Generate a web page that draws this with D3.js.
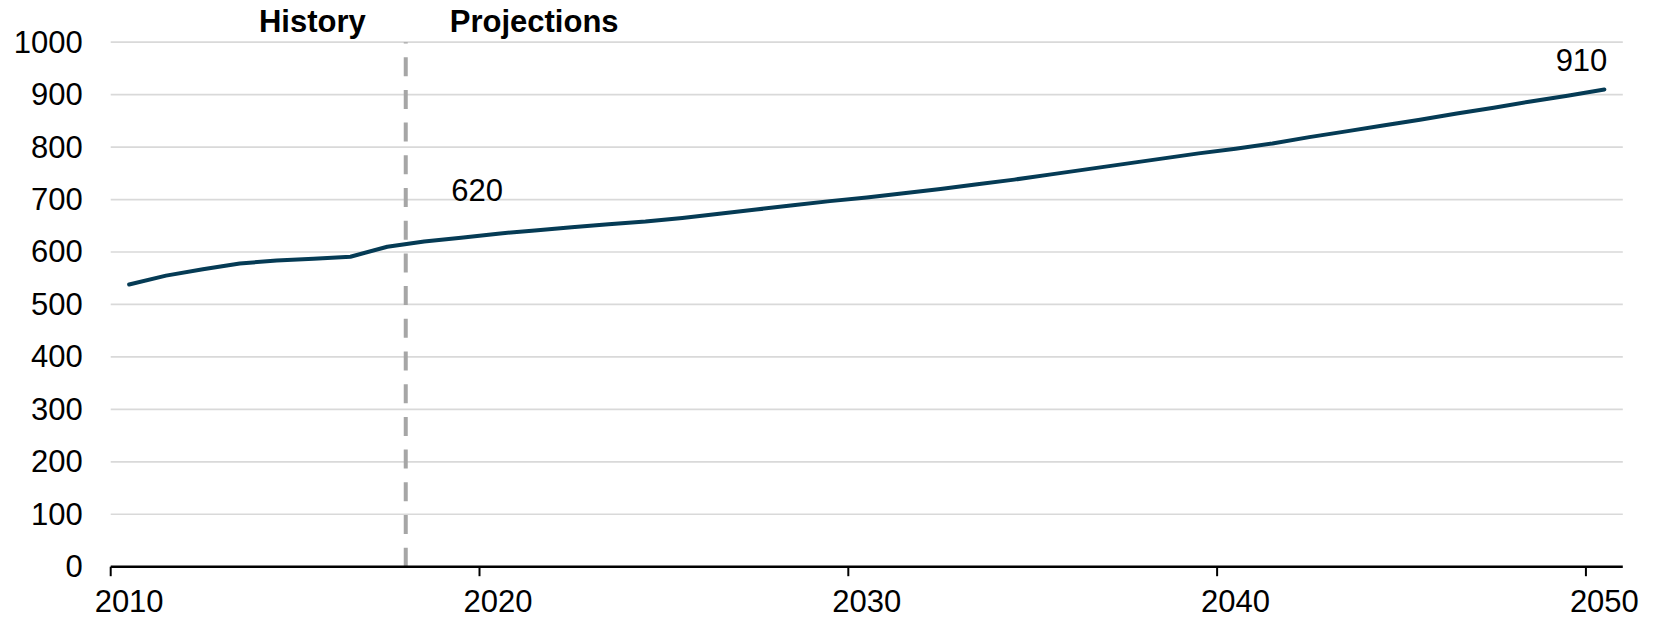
<!DOCTYPE html>
<html>
<head>
<meta charset="utf-8">
<script src="https://cdn.jsdelivr.net/npm/d3@7"></script>
<style>
  html, body { margin: 0; padding: 0; background: #fff; }
  svg { display: block; font-family: Arial, "Liberation Sans", sans-serif; }
</style>
</head>
<body>
<svg id="chart" width="1657" height="619"></svg>
<script>
// Annual values, 2010–2018 history, 2019–2050 projections
const years = d3.range(2010, 2051);
const values = [
  538, 555, 567, 578, 584, 587, 591, 610, 620, 627,
  635, 641, 647, 653, 658, 665, 673, 681, 689, 697,
  704, 712, 720, 729, 738, 748, 758, 768, 778, 788,
  797, 807, 819, 830, 841, 852, 864, 875, 887, 898,
  910
];
const yTicks = [0, 100, 200, 300, 400, 500, 600, 700, 800, 900, 1000];
const xTickYears = [2010, 2020, 2030, 2040, 2050];
const splitYear = 2018;          // boundary between history and projections
const sectionLabels = ["History", "Projections"];
const labelledYears = [2018, 2050];

const W = 1657, H = 619;
const margin = { top: 42.2, right: 34.2, bottom: 52.3, left: 110.7 };
const svg = d3.select("#chart");

// Each year occupies one band; points sit at the band centre
const x = d3.scaleLinear()
  .domain([2010, 2051])
  .range([margin.left, W - margin.right]);
const y = d3.scaleLinear()
  .domain([0, 1000])
  .range([H - margin.bottom, margin.top]);

const data = years.map((yr, i) => ({ year: yr, value: values[i] }));

// Horizontal gridlines
svg.append("g")
  .selectAll("line")
  .data(yTicks.filter(d => d > 0))
  .join("line")
  .attr("x1", x.range()[0])
  .attr("x2", x.range()[1])
  .attr("y1", d => y(d))
  .attr("y2", d => y(d))
  .attr("stroke", "#d9d9d9")
  .attr("stroke-width", 1.7);

// Y axis labels (no axis line)
const yAxis = svg.append("g")
  .attr("transform", `translate(${margin.left},0)`)
  .call(d3.axisLeft(y).tickValues(yTicks).tickFormat(d3.format("d")).tickSize(0).tickPadding(28));
yAxis.select(".domain").remove();
yAxis.selectAll("text")
  .attr("font-size", 31)
  .attr("fill", "#000")
  .attr("font-family", "Arial, 'Liberation Sans', sans-serif");

// History / projections divider, dashes starting from the baseline
svg.append("line")
  .attr("x1", x(splitYear)).attr("x2", x(splitYear))
  .attr("y1", y(0)).attr("y2", y(1000))
  .attr("stroke", "#a6a6a6")
  .attr("stroke-width", 4)
  .attr("stroke-dasharray", "19 13.7");

svg.append("text")
  .attr("x", x(splitYear) - 40)
  .attr("y", 32)
  .attr("text-anchor", "end")
  .attr("font-size", 31)
  .attr("font-weight", "bold")
  .text(sectionLabels[0]);
svg.append("text")
  .attr("x", x(splitYear) + 44)
  .attr("y", 32)
  .attr("text-anchor", "start")
  .attr("font-size", 31)
  .attr("font-weight", "bold")
  .text(sectionLabels[1]);

// X axis: ticks on year boundaries, labels centred in the year band
const xAxis = svg.append("g")
  .attr("transform", `translate(0,${y(0)})`);
xAxis.append("line")
  .attr("x1", x.range()[0]).attr("x2", x.range()[1])
  .attr("y1", 0).attr("y2", 0)
  .attr("stroke", "#000")
  .attr("stroke-width", 2.4);
xAxis.selectAll("line.tick")
  .data(xTickYears)
  .join("line")
  .attr("class", "tick")
  .attr("x1", d => x(d)).attr("x2", d => x(d))
  .attr("y1", 0).attr("y2", 9.5)
  .attr("stroke", "#000")
  .attr("stroke-width", 2);
xAxis.selectAll("text")
  .data(xTickYears)
  .join("text")
  .attr("x", d => x(d + 0.5))
  .attr("y", 45.5)
  .attr("text-anchor", "middle")
  .attr("font-size", 31)
  .attr("fill", "#000")
  .text(d => d);

// Series line
const line = d3.line()
  .x(d => x(d.year + 0.5))
  .y(d => y(d.value));
svg.append("path")
  .datum(data)
  .attr("d", line)
  .attr("fill", "none")
  .attr("stroke", "#053b55")
  .attr("stroke-width", 4)
  .attr("stroke-linejoin", "round")
  .attr("stroke-linecap", "round");

// Value labels
const labelOffsets = {
  2018: { dx: 27, dy: -41, anchor: "start" },
  2050: { dx: 3, dy: -18.5, anchor: "end" }
};
svg.append("g")
  .selectAll("text")
  .data(data.filter(d => labelledYears.includes(d.year)))
  .join("text")
  .attr("x", d => x(d.year + 0.5) + labelOffsets[d.year].dx)
  .attr("y", d => y(d.value) + labelOffsets[d.year].dy)
  .attr("text-anchor", d => labelOffsets[d.year].anchor)
  .attr("font-size", 31)
  .attr("fill", "#000")
  .text(d => d.value);
</script>
</body>
</html>
